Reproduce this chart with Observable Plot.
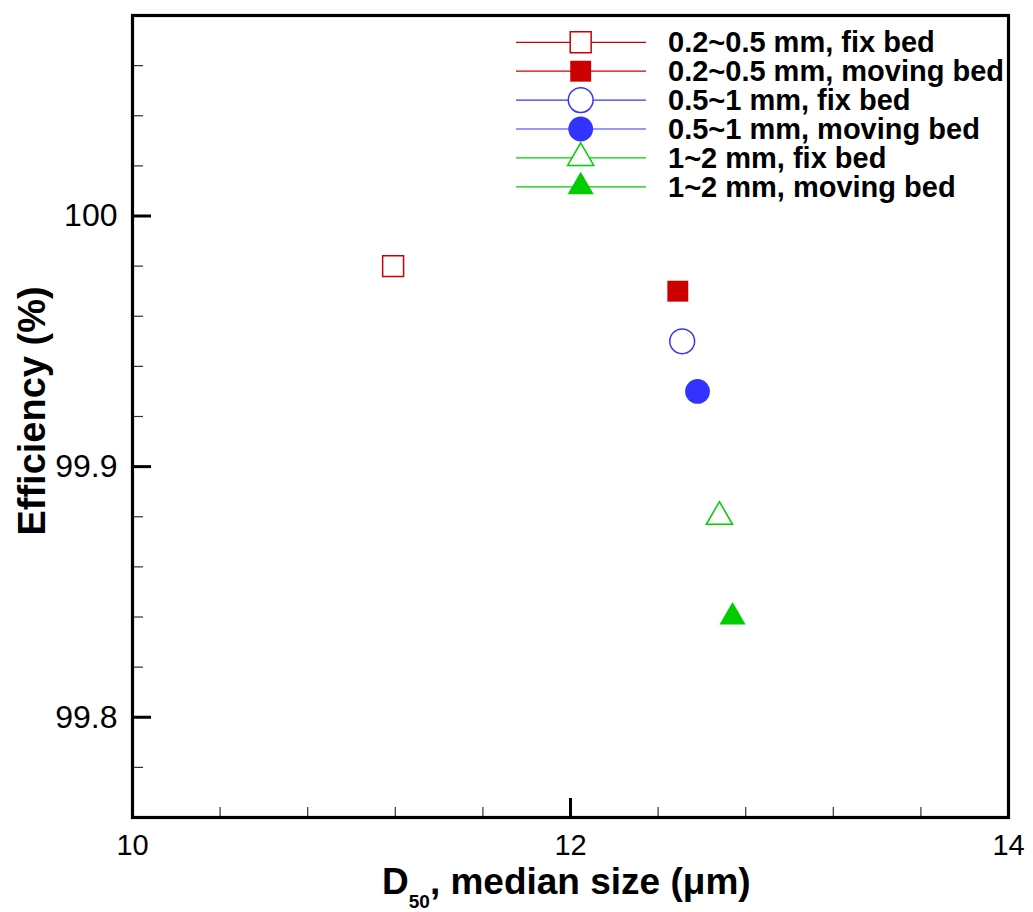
<!DOCTYPE html>
<html><head><meta charset="utf-8">
<script src="https://cdn.jsdelivr.net/npm/d3@7"></script>
<script src="https://cdn.jsdelivr.net/npm/@observablehq/plot@0.6"></script>
<style>
body{margin:0;background:#fff;}
#chart{width:1033px;height:912px;position:relative;}
</style>
</head><body><div id="chart"></div>
<script>
// ---- data ----
const seriesNames = ["0.2~0.5 mm, fix bed", "0.2~0.5 mm, moving bed", "0.5~1 mm, fix bed", "0.5~1 mm, moving bed", "1~2 mm, fix bed", "1~2 mm, moving bed"];
const d50Values = [11.19, 12.49, 12.51, 12.58, 12.68, 12.74];
const efficiencyValues = [99.98, 99.97, 99.95, 99.93, 99.88, 99.84];
const seriesColors = ["#cc0000", "#cc0000", "#3333ff", "#3333ff", "#00cc00", "#00cc00"];
const seriesSymbols = ["square", "square", "circle", "circle", "triangle", "triangle"];
const seriesFilled = [false, true, false, true, false, true];
const xMajorTicks = [10, 12, 14];
const xTickLabels = ["10", "12", "14"];
const xMinorTicks = [10.4, 10.8, 11.2, 11.6, 12.4, 12.8, 13.2, 13.6];
const yMajorTicks = [99.8, 99.9, 100];
const yTickLabels = ["99.8", "99.9", "100"];
const yMinorTicks = [99.78, 99.82, 99.84, 99.86, 99.88, 99.92, 99.94, 99.96, 99.98, 100.02, 100.04, 100.06];
const xDomain = [10, 14];
const yDomain = [99.76, 100.08];
const xTitleMain = "D", xTitleSub = "50", xTitleRest = ", median size (\u03bcm)";
const yTitle = "Efficiency (%)";

// ---- layout / style ----
const W = 1033, H = 912;
const mL = 132, mR = 25, mT = 15, mB = 95;
const plotW = W - mL - mR, plotH = H - mT - mB;
const FONT = "'Liberation Sans', Arial, Helvetica, sans-serif";
const symbolR = {square: 11.8, circle: 12.4, triangle: 9.7};

const points = seriesNames.map((name, i) => ({
  name, x: d50Values[i], y: efficiencyValues[i], color: seriesColors[i],
  symbol: seriesSymbols[i], filled: seriesFilled[i]
}));

const dotMarks = points.map(p => Plot.dot([p], {
  x: "x", y: "y", symbol: p.symbol, r: symbolR[p.symbol],
  fill: p.filled ? p.color : "none", stroke: p.filled ? "none" : p.color,
  strokeWidth: p.filled ? 0 : 1.5
}));

const svg = Plot.plot({
  width: W, height: H,
  marginLeft: mL, marginRight: mR, marginTop: mT, marginBottom: mB,
  style: {fontFamily: FONT, background: "#fff", color: "#000", overflow: "visible"},
  x: {domain: xDomain},
  y: {domain: yDomain},
  marks: [
    Plot.tickX(xMinorTicks, {x: d => d, insetTop: plotH - 10, stroke: "#333", strokeWidth: 1.2}),
    Plot.tickY(yMinorTicks, {y: d => d, insetRight: plotW - 11, stroke: "#333", strokeWidth: 1.2}),
    Plot.tickX(xMajorTicks, {x: d => d, insetTop: plotH - 19, stroke: "#000", strokeWidth: 3}),
    Plot.tickY(yMajorTicks, {y: d => d, insetRight: plotW - 19, stroke: "#000", strokeWidth: 3}),
    Plot.frame({stroke: "#000", strokeWidth: 3.2}),
    Plot.axisX({ticks: xMajorTicks, tickFormat: (d, i) => xTickLabels[i], tickSize: 0, tickPadding: 17, fontSize: 29, label: null}),
    Plot.axisY({ticks: yMajorTicks, tickFormat: (d, i) => yTickLabels[i], tickSize: 0, tickPadding: 15, fontSize: 32, label: null}),
    ...dotMarks
  ]
});
document.getElementById("chart").appendChild(svg);
const s = d3.select(svg);

// ---- y-axis title ----
s.append("text")
  .attr("transform", "translate(45,411) rotate(-90)")
  .attr("text-anchor", "middle")
  .style("font-family", FONT).style("font-weight", "bold").style("font-size", "38px")
  .attr("fill", "#000").text(yTitle);

// ---- x-axis title with subscript ----
const xt = s.append("text")
  .attr("x", 382).attr("y", 894)
  .attr("text-anchor", "start")
  .style("font-family", FONT).style("font-weight", "bold").style("font-size", "37px").attr("fill", "#000");
xt.append("tspan").text(xTitleMain);
xt.append("tspan").attr("dy", 14).style("font-size", "19px").text(xTitleSub);
xt.append("tspan").attr("dy", -14).text(xTitleRest);

// ---- legend ----
const lg = s.append("g");
points.forEach((p, i) => {
  const yRow = 42.3 + i * 28.9;
  lg.append("line").attr("x1", 516).attr("x2", 646).attr("y1", yRow).attr("y2", yRow)
    .attr("stroke", p.color).attr("stroke-width", 1.2);
  const type = {square: d3.symbolSquare, circle: d3.symbolCircle, triangle: d3.symbolTriangle}[p.symbol];
  const r = symbolR[p.symbol];
  lg.append("path").attr("d", d3.symbol(type, Math.PI * r * r)())
    .attr("transform", `translate(580.7,${yRow})`)
    .attr("fill", p.filled ? p.color : "#fff")
    .attr("stroke", p.filled ? "none" : p.color).attr("stroke-width", 1.5);
  lg.append("text").attr("x", 668).attr("y", yRow + 10)
    .attr("text-anchor", "start")
    .style("font-family", FONT).style("font-weight", "bold").style("font-size", "29px")
    .attr("fill", "#000").text(p.name);
});
</script>
</body></html>
